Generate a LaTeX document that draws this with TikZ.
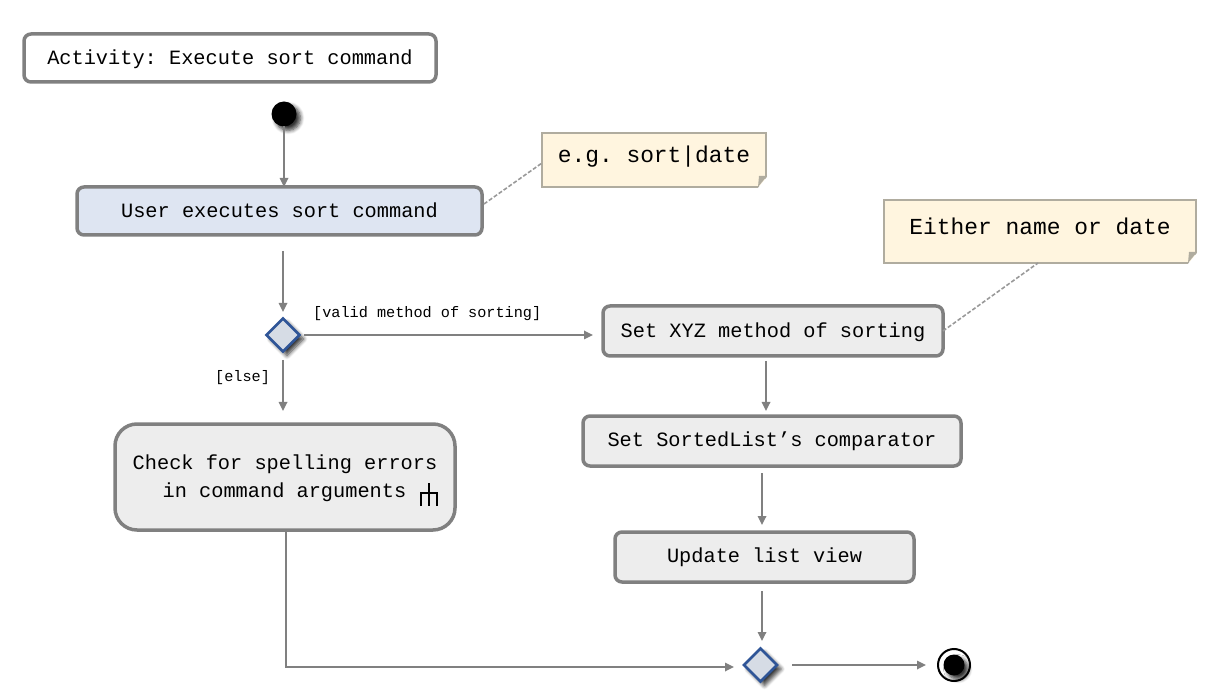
\documentclass[tikz,border=0pt]{standalone}
\usepackage{fontspec}
\setmonofont{Liberation Mono}
\usetikzlibrary{arrows.meta,shapes.geometric,shadows.blur}

\definecolor{boxgray}{HTML}{808080}
\definecolor{boxfill}{HTML}{EDEDED}
\definecolor{userfill}{HTML}{DEE5F2}
\definecolor{notefill}{HTML}{FFF5DF}
\definecolor{noteline}{HTML}{B0AC9F}
\definecolor{diamondline}{HTML}{2F5597}
\definecolor{diamondfill}{HTML}{D6DCE5}

\tikzset{
  softshadow/.style={blur shadow={shadow xshift=4pt, shadow yshift=-4pt, shadow blur steps=6, shadow blur radius=4pt, shadow opacity=80}},
  actbox/.style={draw=boxgray, line width=3.5pt, fill=boxfill, rounded corners=7pt, outer sep=0pt, inner sep=0pt,
    text height=15pt, text depth=2pt, font=\ttfamily\fontsize{20.3}{28}\selectfont},
  notebox/.style={draw=noteline, line width=2pt, fill=notefill, outer sep=0pt, inner sep=0pt,
    text height=15pt, text depth=9pt, font=\ttfamily\fontsize{22.9}{28}\selectfont},
  notefoldtip/.style={fill=noteline},
  guard/.style={inner sep=0pt, text height=11pt, text depth=2pt, font=\ttfamily\fontsize{15.2}{18}\selectfont},
  decision/.style={diamond, aspect=1, draw=diamondline, line width=2.5pt, fill=diamondfill, inner sep=0pt, outer sep=0pt,
    minimum width=33pt, minimum height=33pt, softshadow},
  flow/.style={draw=boxgray, line width=1.7pt, -{Triangle[length=9pt,width=8.5pt]}},
  notelink/.style={draw=boxgray!80, line width=1.6pt, dash pattern=on 4pt off 2pt}
}

\newcommand{\notefold}[1]{
\fill[white] ([xshift=1pt,yshift=-1pt]#1.south east) -- ++(0,-11) -- ++(-9,11) -- cycle;
\fill[notefoldtip] ([xshift=1pt]#1.south east) ++(0,-11) -- ++(-8,0) -- ++(-1,11) -- cycle;
}

\begin{document}
\begin{tikzpicture}[x=1pt, y=-1pt]

\useasboundingbox (0,0) rectangle (1210,700);

\node [actbox, fill=white, minimum width=412pt, minimum height=48pt] (title) at (230,58) {Activity: Execute sort command};

\node [circle, fill=black, inner sep=0pt, outer sep=0pt, minimum size=25pt, softshadow] (start) at (284,114) {};

\node [actbox, fill=userfill, minimum width=405pt, minimum height=48pt] (user) at (279.5,211) {User executes sort command};

\node [notebox, minimum width=224pt, minimum height=54pt] (note1) at (654,160) {e.g. sort|date};
\notefold{note1}

\node [notebox, minimum width=312pt, minimum height=63pt] (note2) at (1040,231.5) {Either name or date};
\notefold{note2}

\node [decision] (dec1) at (283,335) {};

\node [actbox, minimum width=340pt, minimum height=50pt] (setmethod) at (773,331) {Set XYZ method of sorting};
\node [actbox, minimum width=378pt, minimum height=50pt, text depth=4pt] (comparator) at (772,441) {Set SortedList’s comparator};
\node [actbox, minimum width=299pt, minimum height=50pt, text depth=4pt] (update) at (764.5,557) {Update list view};

\node [actbox, rounded corners=22pt, minimum width=340pt, minimum height=106pt, align=right, text height=44pt, text depth=3pt] (check) at (285,477) {Check for spelling errors\\in command arguments\hspace{31pt}\ };

\node [decision] (dec2) at (760.5,665) {};

\node [circle, draw=black, line width=2pt, fill=white, inner sep=0pt, outer sep=0pt, minimum size=32pt] (endstate) at (954,665) {};
\node [circle, fill=black, inner sep=0pt, outer sep=0pt, minimum size=21pt, softshadow] (enddot) at (954,665) {};

\node [guard, anchor=west] (guardvalid) at (313,313) {[valid method of sorting]};
\node [guard, anchor=west] (guardelse) at (215,377) {[else]};

% connectors
\draw [flow] (start.south) -- (start.south |- user.north);
\draw [flow, shorten <=16pt, shorten >=6.5pt] (dec1.north |- user.south) -- (dec1.north);
\draw [flow, shorten <=4.5pt, shorten >=10pt] (dec1.east) -- (setmethod.west |- dec1.east);
\draw [flow, shorten <=8.5pt, shorten >=13pt] (dec1.south) -- (dec1.south |- check.north);
\draw [flow, shorten <=5pt, shorten >=5pt] ([xshift=-7pt]setmethod.south) -- ([xshift=-6pt]comparator.north);
\draw [flow, shorten <=7pt, shorten >=7pt] ([xshift=-10pt]comparator.south) -- ([xshift=-2.5pt]update.north);
\draw [flow, shorten <=9pt, shorten >=7.5pt] ([xshift=-2.5pt]update.south) -- ([xshift=1.5pt]dec2.north);
\draw [flow, shorten >=10pt] ([xshift=1pt]check.south) |- ([yshift=-2pt]dec2.west);
\draw [flow, shorten <=15pt, shorten >=12pt] (dec2.east) -- (endstate.west);

\draw [notelink] ([yshift=7pt,xshift=2pt]user.east) -- ([yshift=-3pt]note1.west);
\draw [notelink] (setmethod.east) -- ([xshift=-2pt]note2.south);

% rake icon
\draw [black, line width=1.3pt] (429,483) -- (429,506);
\draw [black, line width=1.3pt] (421,506) -- (421,493) -- (437,493) -- (437,506);

\end{tikzpicture}
\end{document}
